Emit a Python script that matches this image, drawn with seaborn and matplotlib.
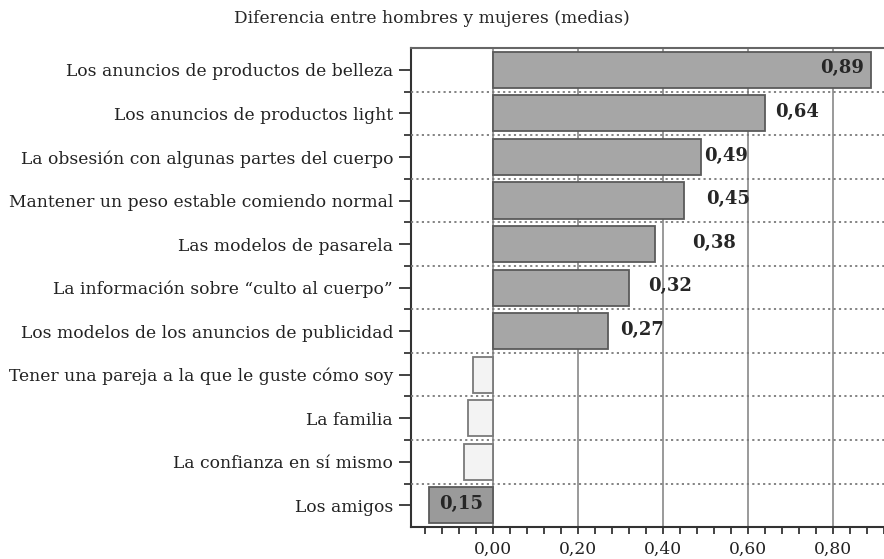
import matplotlib
matplotlib.use("Agg")
import matplotlib.pyplot as plt
from matplotlib.ticker import MultipleLocator, FuncFormatter
import seaborn as sns

# data
categories = [
    "Los anuncios de productos de belleza",
    "Los anuncios de productos light",
    "La obsesión con algunas partes del cuerpo",
    "Mantener un peso estable comiendo normal",
    "Las modelos de pasarela",
    "La información sobre \u201cculto al cuerpo\u201d",
    "Los modelos de los anuncios de publicidad",
    "Tener una pareja a la que le guste cómo soy",
    "La familia",
    "La confianza en sí mismo",
    "Los amigos",
]
values = [0.89, 0.64, 0.49, 0.45, 0.38, 0.32, 0.27, -0.048, -0.058, -0.068, -0.15]
value_labels = ["0,89", "0,64", "0,49", "0,45", "0,38", "0,32", "0,27", "", "", "", "0,15"]
title = "Diferencia entre hombres y mujeres (medias)"

# styling
face_colors = ["#a6a6a6"] * 7 + ["#f3f3f3"] * 3 + ["#9a9a9a"]
edge_colors = ["#5a5a5a"] * 7 + ["#7a7a7a"] * 3 + ["#5a5a5a"]
label_pad = [None, 10, 3, 22, 38, 19, 12, None, None, None, None]

sns.set_style("white")
plt.rcParams["font.family"] = ["DejaVu Serif"]

fig = plt.figure(figsize=(8.84, 5.59), dpi=100)
ax = fig.add_axes([0.465, 0.057, 0.535, 0.857])

sns.barplot(x=values, y=categories, hue=categories, palette=face_colors,
            legend=False, orient="h", width=0.83, ax=ax, zorder=3)
for patch, ec in zip(ax.patches, edge_colors):
    patch.set_edgecolor(ec)
    patch.set_linewidth(1.3)

ax.set_xlim(-0.193, 0.92)
ax.set_ylim(len(categories) - 0.5, -0.5)

# vertical grid at major ticks, dotted separators between rows
for xv in [0.0, 0.2, 0.4, 0.6, 0.8]:
    ax.axvline(xv, color="#9a9a9a", lw=1.4, zorder=1)
for i in range(len(categories) - 1):
    ax.axhline(i + 0.5, color="#7a7a7a", lw=1.3, ls=(0, (1.2, 1.8)), zorder=4)

ax.xaxis.set_major_locator(MultipleLocator(0.2))
ax.xaxis.set_minor_locator(MultipleLocator(0.04))
ax.xaxis.set_major_formatter(FuncFormatter(lambda v, p: f"{v:.2f}".replace(".", ",")))
ax.set_yticks(range(len(categories)))
ax.set_yticks([i + 0.5 for i in range(len(categories) - 1)], minor=True)
ax.set_yticklabels(categories, fontsize=12.3)
ax.tick_params(axis="x", which="both", direction="out", length=5, width=1.2,
               bottom=True, labelsize=12.3, colors="#222222", pad=5)
ax.tick_params(axis="y", which="major", direction="out", length=9, width=1.2,
               left=True, pad=4, colors="#222222")
ax.tick_params(axis="y", which="minor", direction="out", length=5, width=1.2, left=True)
ax.set_xlabel("")
ax.set_ylabel("")

for side in ["left", "bottom", "top"]:
    ax.spines[side].set_visible(True)
    ax.spines[side].set_color("#333333")
    ax.spines[side].set_linewidth(1.5)
ax.spines["top"].set_color("#666666")
ax.spines["right"].set_visible(False)

for i, (v, lab) in enumerate(zip(values, value_labels)):
    if not lab:
        continue
    if i == 0:
        ax.annotate(lab, (v, i), xytext=(-5, 1), textcoords="offset points",
                    ha="right", va="center", fontsize=13, fontweight="bold", zorder=5)
    elif v < 0:
        ax.annotate(lab, (v / 2, i), xytext=(0, 1), textcoords="offset points",
                    ha="center", va="center", fontsize=13, fontweight="bold", zorder=5)
    else:
        ax.annotate(lab, (v, i), xytext=(label_pad[i] * 0.72, 1), textcoords="offset points",
                    ha="left", va="center", fontsize=13, fontweight="bold", zorder=5)

fig.text(0.488, 0.967, title, ha="center", va="center", fontsize=12.3)

fig.savefig("out.png", dpi=100)
plt.close(fig)
